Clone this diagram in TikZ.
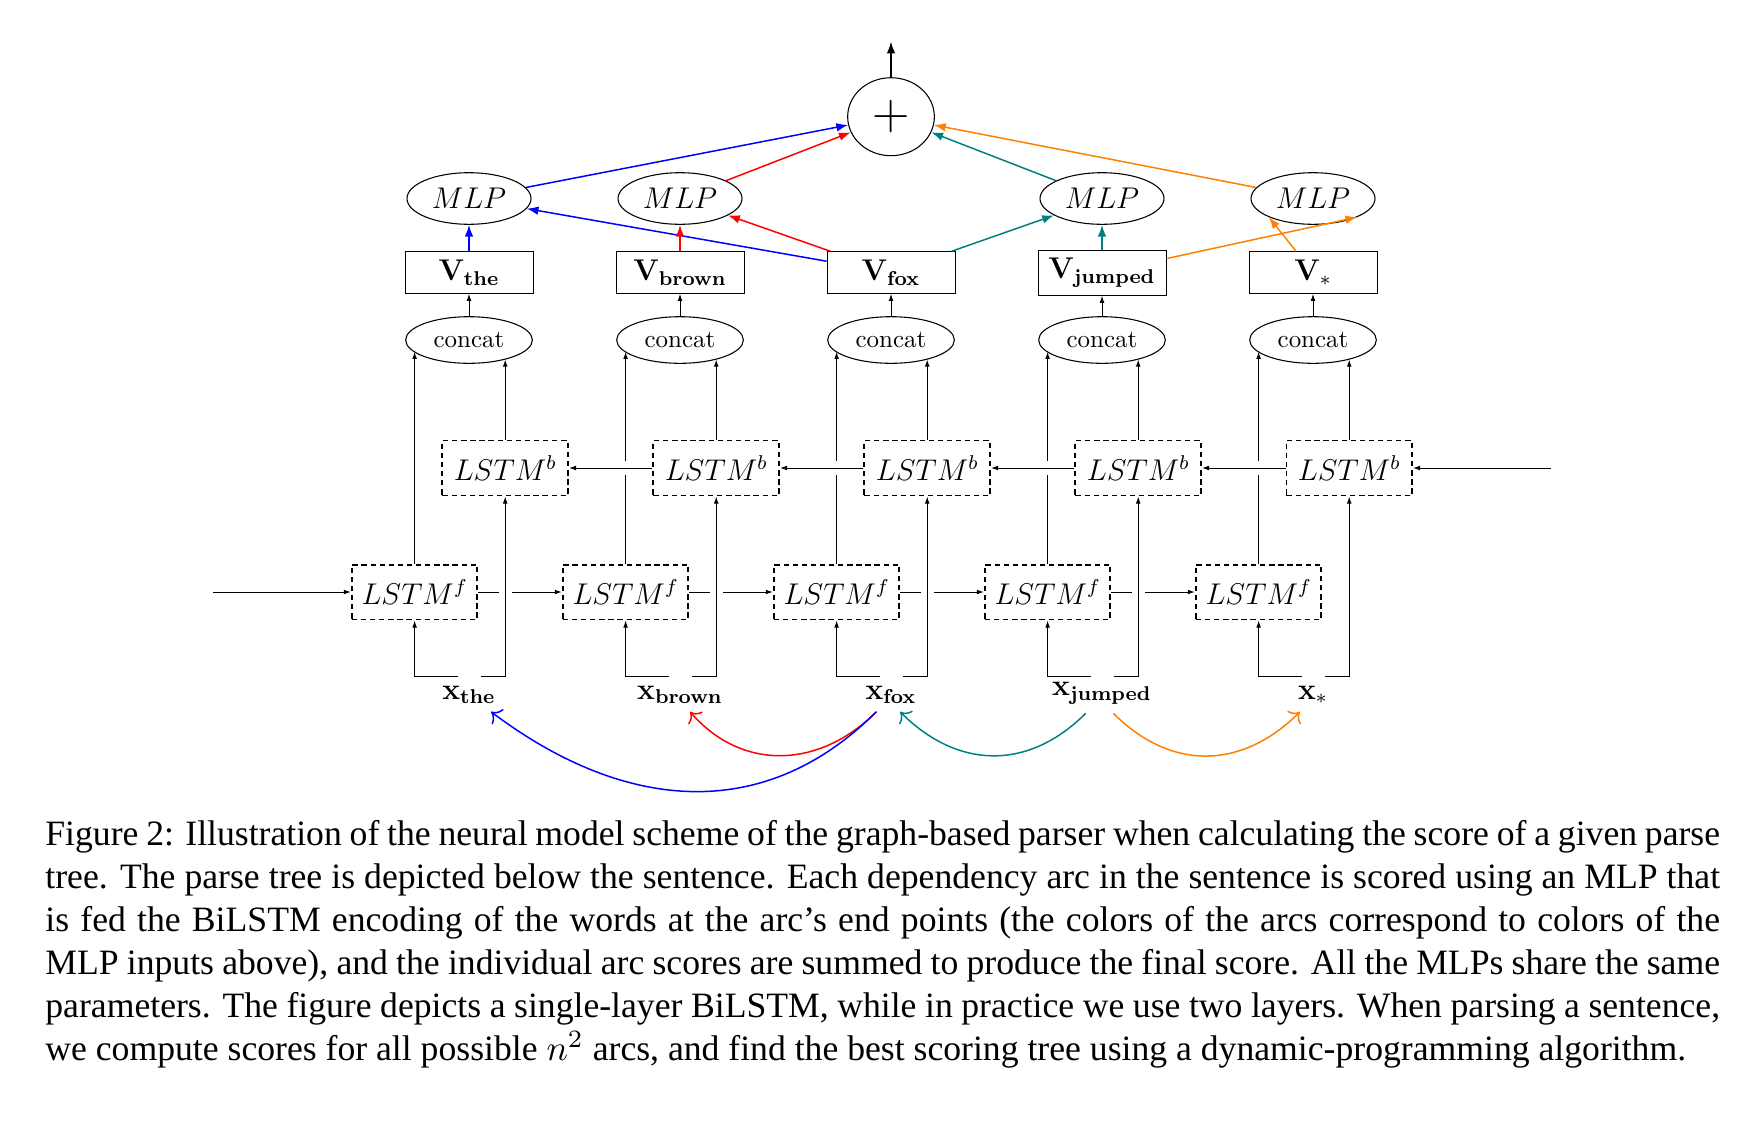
\documentclass[tikz,border=0pt]{standalone}
\usepackage[no-math]{fontspec}
\usepackage{amsmath}
\newfontfamily\capfont{Liberation Serif}
\usetikzlibrary{shapes.geometric,arrows.meta,calc}
\newcommand{\skt}[1]{\scalebox{0.7}{#1}}
\begin{document}
\begin{tikzpicture}[x=0.28043pt, y=0.28043pt,
  thinarr/.style={line width=0.28pt, -{Latex[length=2pt,width=1.35pt]}},
  colarr/.style={line width=0.42pt, -{Latex[length=3.3pt,width=2.4pt]}},
  arcline/.style={line width=0.42pt, ->},
  lstmbox/.style={draw, rectangle, line width=0.55pt, dash pattern=on 1.5pt off 1.05pt, inner sep=0, minimum width=35.19pt, minimum height=15.42pt},
  ell/.style={draw, ellipse, line width=0.3pt, inner sep=0},
  concatnode/.style={ell, minimum width=35.53pt, minimum height=13.07pt},
  mlpnode/.style={ell, minimum width=34.77pt, minimum height=14.47pt},
  plusnode/.style={ell, minimum width=24.31pt, minimum height=21.87pt},
  vnode/.style={draw, rectangle, line width=0.25pt, inner sep=0, minimum width=35.9pt, minimum height=11.67pt},
  xlabel/.style={anchor=base, inner sep=0},
  gapmask/.style={fill=white, draw=none},
  capline/.style={anchor=base west, inner sep=0, font=\capfont\fontsize{10}{12}\selectfont}]
\useasboundingbox (0,0) rectangle (1748,-1127);

% ---- top part
\node[plusnode] (plus) at (891,-116.7) {\skt{\huge$+$}};
\coordinate (out) at (891,-41.7);
\node[mlpnode] (m0) at (469,-198.5) {\skt{\large$MLP$}};
\node[mlpnode] (m1) at (680,-198.5) {\skt{\large$MLP$}};
\node[mlpnode] (m3) at (1102,-198.5) {\skt{\large$MLP$}};
\node[mlpnode] (m4) at (1313,-198.5) {\skt{\large$MLP$}};
\node[vnode] (v0) at (469,-272.5) {\skt{\large$\mathbf{V}_{\mathbf{the}}$}};
\node[vnode] (v1) at (680,-272.5) {\skt{\large$\mathbf{V}_{\mathbf{brown}}$}};
\node[vnode] (v2) at (891,-272.5) {\skt{\large$\mathbf{V}_{\mathbf{fox}}$}};
\node[vnode, minimum height=12.7pt] (v3) at (1102,-272.6) {\skt{\large$\mathbf{V}_{\mathbf{jumped}}$}};
\node[vnode] (v4) at (1313,-272.5) {\skt{\large$\mathbf{V}_{*}$}};

% ---- columns
\foreach \i/\cx in {0/469,1/680,2/891,3/1102,4/1313} {
  \node[concatnode] (c\i) at (\cx,-340) {\skt{concat}};
  \node[lstmbox] (lb\i) at (\cx+36.2,-468) {\skt{\large$LSTM^b$}};
  \node[lstmbox] (lf\i) at (\cx-54.4,-592) {\skt{\large$LSTM^f$}};
  \coordinate (xl\i) at (\cx-11.5,-676);
  \coordinate (xr\i) at (\cx+11.5,-676);
}
\node[xlabel] (x0) at (469,-699) {\skt{\large$\mathbf{x}_{\mathbf{the}}$}};
\node[xlabel] (x1) at (680,-699) {\skt{\large$\mathbf{x}_{\mathbf{brown}}$}};
\node[xlabel] (x2) at (891,-699) {\skt{\large$\mathbf{x}_{\mathbf{fox}}$}};
\node[xlabel] (x3) at (1102,-695.7) {\skt{\large$\mathbf{x}_{\mathbf{jumped}}$}};
\node[xlabel] (x4) at (1313,-699) {\skt{\large$\mathbf{x}_{*}$}};
\coordinate (inL) at (213.3,-592);
\coordinate (inR) at (1551,-468);

% ---- black connectors
\foreach \i in {0,...,4} {
  \draw[thinarr] (c\i) -- (v\i);
  \draw[thinarr] (lf\i.north) -- (lf\i.north |- c\i.192);
  \draw[thinarr] (lb\i.north) -- (lb\i.north |- c\i.332);
  \draw[thinarr] (xl\i) -| (lf\i.south);
}
\foreach \i/\j in {0/1,1/2,2/3,3/4} {
  \fill[gapmask] ($(lf\j.north |- lb\i.east)+(-3,-6.65)$) rectangle ($(lf\j.north |- lb\i.east)+(3,6.65)$);
  \draw[thinarr] (lb\j.west) -- (lb\i.east);
  \draw[thinarr] (lf\i.east) -- (lf\j.west);
}
\foreach \i in {0,...,4} {
  \fill[gapmask] ($(lb\i.south |- lf\i.east)+(-6.65,-3)$) rectangle ($(lb\i.south |- lf\i.east)+(6.65,3)$);
  \draw[thinarr] (xr\i) -| (lb\i.south);
}
\draw[thinarr] (inL) -- (lf0.west);
\draw[thinarr] (inR) -- (lb4.east);

% ---- coloured connectors
\draw[colarr] (plus.north) -- (out);
\draw[colarr, blue] (v0) -- (m0);
\draw[colarr, blue] (v2) -- (m0);
\draw[colarr, blue] (m0) -- (plus);
\draw[colarr, red] (v1) -- (m1);
\draw[colarr, red] (v2) -- (m1);
\draw[colarr, red] (m1) -- (plus);
\draw[colarr, teal] (v2) -- (m3);
\draw[colarr, teal] (v3) -- (m3);
\draw[colarr, teal] (m3) -- (plus);
\draw[colarr, orange] (v3) -- (m4.south east);
\draw[colarr, orange] (v4) -- (m4.south west);
\draw[colarr, orange] (m4) -- (plus);

% ---- dependency arcs
\draw[arcline, red] ($(x2.base)+(-14.6,-12.7)$) to[out=225, in=311, looseness=1.1] ($(x1.base)+(10,-12.7)$);
\draw[arcline, blue] ($(x2.base)+(-14.6,-12.7)$) to[out=225, in=323, looseness=1.08] ($(x0.base)+(22,-12.7)$);
\draw[arcline, teal] ($(x3.base)+(-16.3,-17.6)$) to[out=225, in=315, looseness=1.12] ($(x2.base)+(9,-12.7)$);
\draw[arcline, orange] ($(x3.base)+(11.3,-17.6)$) to[out=315, in=225, looseness=1.12] ($(x4.base)+(-13,-12.7)$);

% ---- caption
\node[capline] (cap1) at (44.7,-845) {\makebox[469.6pt][s]{Figure 2: Illustration of the neural model scheme of the graph-based parser when calculating the score of a given parse}};
\node[capline] (cap2) at (44.7,-888) {\makebox[469.6pt][s]{tree. The parse tree is depicted below the sentence. Each dependency arc in the sentence is scored using an MLP that}};
\node[capline] (cap3) at (44.7,-931) {\makebox[469.6pt][s]{is fed the BiLSTM encoding of the words at the arc’s end points (the colors of the arcs correspond to colors of the}};
\node[capline] (cap4) at (44.7,-974) {\makebox[469.6pt][s]{MLP inputs above), and the individual arc scores are summed to produce the final score. All the MLPs share the same}};
\node[capline] (cap5) at (44.7,-1017) {\makebox[469.6pt][s]{parameters. The figure depicts a single-layer BiLSTM, while in practice we use two layers. When parsing a sentence,}};
\node[capline] (cap6) at (44.7,-1060) {we compute scores for all possible $n^2$ arcs, and find the best scoring tree using a dynamic-programming algorithm.};
\end{tikzpicture}
\end{document}
